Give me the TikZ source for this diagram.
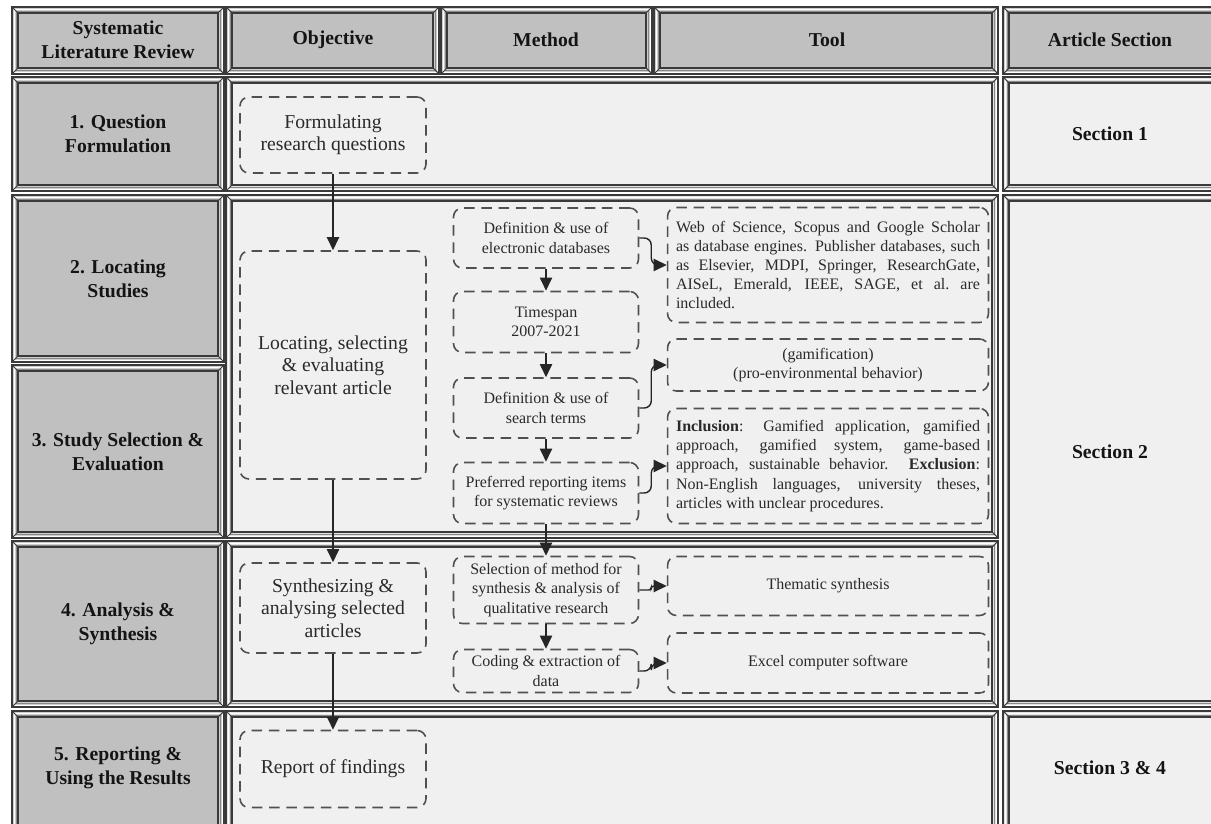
\documentclass[tikz,border=0pt]{standalone}
\usepackage{fontspec}
\setmainfont{Liberation Serif}
\usetikzlibrary{arrows.meta}
\newdimen\px \px=0.569pt
\definecolor{facegray}{HTML}{C0C0C0}
\definecolor{panel}{HTML}{F0F0F0}
\definecolor{bandg}{HTML}{CDCDCD}
\definecolor{bandp}{HTML}{E2E2E2}
\definecolor{edgec}{HTML}{3A3A3A}
\definecolor{dashc}{HTML}{505050}
\definecolor{txt}{HTML}{2A2A2A}
\newcommand\bevelcell[6]{%
  \fill[#6] (#1,#2) rectangle (#3,#4);
  \fill[#5] (#1+6,#2+6) rectangle (#3-6,#4-6);
  \draw[white,line width=0.5pt] (#1+2,#2+2) rectangle (#3-2,#4-2);
  \draw[edgec!60,line width=0.4pt] (#1+4,#2+4) rectangle (#3-4,#4-4);
  \draw[edgec,line width=0.6pt] (#1,#2) rectangle (#3,#4);
  \draw[edgec,line width=0.6pt] (#1+6,#2+6) rectangle (#3-6,#4-6);
  \draw[edgec,line width=0.6pt] (#1,#2) -- (#1+6,#2+6) (#3,#2) -- (#3-6,#2+6)
     (#1,#4) -- (#1+6,#4-6) (#3,#4) -- (#3-6,#4-6);
}
\tikzset{
  hdr/.style={font=\fontsize{11.2}{13.5}\selectfont\bfseries, text=black!92, align=center},
  dbox/.style={draw=dashc, line width=0.9pt, dash pattern=on 6pt off 3.8pt,
     rounded corners=5pt, fill=panel, align=center, text=txt, inner sep=2pt},
  objbox/.style={dbox, minimum width=186\px, font=\fontsize{11.2}{12.8}\selectfont},
  methbox/.style={dbox, minimum width=185\px, font=\fontsize{9.1}{10.9}\selectfont},
  toolbox/.style={dbox, minimum width=321\px, font=\fontsize{9.1}{10.9}\selectfont},
  flow/.style={draw=black!85, line width=0.8pt, -{Triangle[length=7.5pt,width=7pt]}},
  side/.style={flow, rounded corners=4pt},
}
\begin{document}
\begin{tikzpicture}[x=0.02cm,y=-0.02cm]
\useasboundingbox (0,0) rectangle (1211,824);
\fill[white] (0,0) rectangle (1211,824);
\begin{scope}
\clip (0,0) rectangle (1211,824);
% header row
\bevelcell{12}{7}{224}{74}{facegray}{bandg}
\bevelcell{226}{7}{439}{74}{facegray}{bandg}
\bevelcell{441}{7}{652}{74}{facegray}{bandg}
\bevelcell{654}{7}{998}{74}{facegray}{bandg}
\bevelcell{1003}{7}{1225}{74}{facegray}{bandg}
% left column
\bevelcell{12}{77}{224}{191}{facegray}{bandg}
\bevelcell{12}{195}{224}{362}{facegray}{bandg}
\bevelcell{12}{365}{224}{538}{facegray}{bandg}
\bevelcell{12}{541}{224}{707}{facegray}{bandg}
\bevelcell{12}{711}{224}{845}{facegray}{bandg}
% content panels
\bevelcell{226}{77}{998}{191}{panel}{bandp}
\bevelcell{226}{195}{998}{538}{panel}{bandp}
\bevelcell{226}{541}{998}{707}{panel}{bandp}
\bevelcell{226}{711}{998}{845}{panel}{bandp}
% article section panels
\bevelcell{1003}{77}{1225}{191}{panel}{bandp}
\bevelcell{1003}{195}{1225}{707}{panel}{bandp}
\bevelcell{1003}{711}{1225}{845}{panel}{bandp}
\end{scope}
% header texts
\node[hdr] (hslr) at (118,40) {Systematic\\Literature Review};
\node[hdr] (hobj) at (333,40) {Objective};
\node[hdr] (hmeth) at (546,40) {Method};
\node[hdr] (htool) at (827,40) {Tool};
\node[hdr] (hart) at (1110,40) {Article Section};
% row labels
\node[hdr] (r1) at (118,134) {1. Question\\Formulation};
\node[hdr] (r2) at (118,279) {2. Locating\\Studies};
\node[hdr] (r3) at (118,452) {3. Study Selection \&\\Evaluation};
\node[hdr] (r4) at (118,624) {4. Analysis \&\\Synthesis};
\node[hdr] (r5) at (118,768) {5. Reporting \&\\Using the Results};
% sections
\node[hdr] (s1) at (1110,134) {Section 1};
\node[hdr] (s2) at (1110,452) {Section 2};
\node[hdr] (s3) at (1110,768) {Section 3 \& 4};
% objective boxes
\node[objbox, minimum height=76\px] (o1) at (333,135) {Formulating\\research questions};
\node[objbox, minimum height=228\px] (o2) at (333,365) {Locating, selecting\\\& evaluating\\relevant article};
\node[objbox, minimum height=90\px] (o3) at (333,608) {Synthesizing \&\\analysing selected\\articles};
\node[objbox, minimum height=77\px] (o4) at (333,769) {Report of findings};
% method boxes
\node[methbox, minimum height=60\px] (m1) at (546,238) {Definition \& use of\\electronic databases};
\node[methbox, minimum height=61\px] (m2) at (546,322) {Timespan\\2007-2021};
\node[methbox, minimum height=60\px] (m3) at (546,408) {Definition \& use of\\search terms};
\node[methbox, minimum height=61\px] (m4) at (546,493) {Preferred reporting items\\for systematic reviews};
\node[methbox, minimum height=67\px] (m5) at (546,590) {Selection of method for\\synthesis \& analysis of\\qualitative research};
\node[methbox, minimum height=43\px] (m6) at (546,671) {Coding \& extraction of\\data};
% tool boxes
\node[toolbox, minimum height=115\px, text width=173pt, align=justify] (t1) at (828,265)
  {\tolerance=10000 Web of Science, Scopus and Google Scholar\linebreak
   as database engines. Publisher databases, such\linebreak
   as Elsevier, MDPI, Springer, ResearchGate,\linebreak
   AISeL, Emerald, IEEE, SAGE, et al.\ are\linebreak
   included.};
\node[toolbox, minimum height=52\px] (t2) at (828,365) {(gamification)\\(pro-environmental behavior)};
\node[toolbox, minimum height=115\px, text width=173pt, align=justify] (t3) at (828,466)
  {\tolerance=10000 \textbf{Inclusion}: Gamified application, gamified\linebreak
   approach, gamified system, game-based\linebreak
   approach, sustainable behavior. \textbf{Exclusion}:\linebreak
   Non-English languages, university theses,\linebreak
   articles with unclear procedures.};
\node[toolbox, minimum height=59\px] (t4) at (828,586) {Thematic synthesis};
\node[toolbox, minimum height=60\px] (t5) at (828,663) {Excel computer software};
% objective flow
\draw[flow] (o1.south) -- (o2.north);
\draw[flow] (o2.south) -- (o3.north);
\draw[flow] (o3.south) -- (o4.north);
% method flow
\draw[flow] (m1.south) -- (m2.north);
\draw[flow] (m2.south) -- (m3.north);
\draw[flow] (m3.south) -- (m4.north);
\draw[flow] (m4.south) -- (m5.north);
\draw[flow] (m5.south) -- (m6.north);
% method to tool
\draw[side] (m1.east) -- ++(12,0) |- (t1.west);
\draw[side] (m3.east) -- ++(12,0) |- (t2.west);
\draw[side] (m4.east) -- ++(12,0) |- (t3.west);
\draw[side, rounded corners=1.5pt] (m5.east) -- ++(12,0) |- (t4.west);
\draw[side] (m6.east) -- ++(12,0) |- (t5.west);
\end{tikzpicture}
\end{document}
